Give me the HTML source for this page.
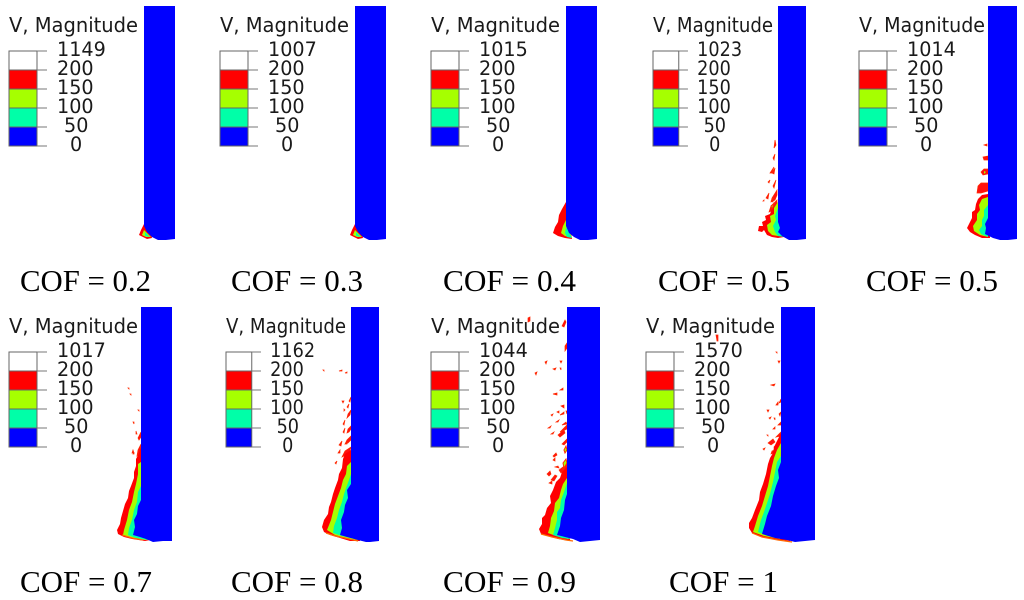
<!DOCTYPE html>
<html lang="en">
<head>
<meta charset="utf-8">
<title>Velocity magnitude contours by COF</title>
<style>
html,body{margin:0;padding:0;background:#fff;width:1024px;height:600px;overflow:hidden}
svg{display:block;filter:blur(0.35px)}
.title{font-family:"DejaVu Sans",sans-serif;font-size:20px;fill:#1a1a1a}
.num{font-family:"DejaVu Sans",sans-serif;font-size:19.5px;fill:#1a1a1a}
.cof{font-family:"Liberation Serif",serif;font-size:31px;fill:#000}
.red{fill:#ff0000}.lime{fill:#a6ff00}.teal{fill:#00ffa8}.blue{fill:#0000ff}
.sp{fill:#ff1010;stroke:#ff2a00;stroke-width:.7}
.spl{fill:#a6ff00;stroke:#ff2a00;stroke-width:1}
</style>
</head>
<body>
<svg id="figure" width="1024" height="600" viewBox="0 0 1024 600" xmlns="http://www.w3.org/2000/svg">
<rect width="1024" height="600" fill="#fff"/>

<g class="panel" data-lx="9" data-ly="51" data-tw="129" data-sx="1">
  <polygon class="red" points="144,224 141,230 139,235 143,237 147,239 152,238 150,230"/>
  <polygon class="lime" points="144,230 142,235 146,237 151,237"/>
  <polygon class="teal" points="145,232 145,236 150,237"/>
  <path class="blue" d="M144,6H175V239L166,240H158L152,237L147,232L144,226Z"/>
  <text class="cof" x="20" y="291" textLength="131" lengthAdjust="spacingAndGlyphs">COF = 0.2</text>
</g>

<g class="panel" data-lx="220" data-ly="51" data-tw="129" data-sx="1">
  <polygon class="red" points="355,224 352,230 350,235 354,237 358,239 363,238 361,230"/>
  <polygon class="lime" points="355,230 353,235 357,237 362,237"/>
  <polygon class="teal" points="356,232 356,236 361,237"/>
  <path class="blue" d="M355,6H386V239L377,240H369L363,237L358,232L355,226Z"/>
  <text class="cof" x="231" y="291" textLength="132" lengthAdjust="spacingAndGlyphs">COF = 0.3</text>
</g>

<g class="panel" data-lx="431" data-ly="51" data-tw="129" data-sx="1">
  <polygon class="red" points="566,202 562,209 559,215 558,222 555,227 553,233 558,236 565,238 572,239 570,225"/>
  <polygon class="lime" points="566,220 563,226 561,233 565,236 572,238"/>
  <polygon class="teal" points="566,227 565,233 567,237 572,238"/>
  <path class="blue" d="M566,6H597V239L588,240H580L574,237L569,233L566,226Z"/>
  <text class="cof" x="443" y="291" textLength="133" lengthAdjust="spacingAndGlyphs">COF = 0.4</text>
</g>

<g class="panel" data-lx="653" data-ly="51" data-tw="120" data-sx="0.92">
  <path class="sp" d="M775,140l1,5-2,3zM775,154l-2,4 1,2zM774,167l-4,6 2,0zM775,168l-3,5 2,1zM770,180l-2,2 1,1zM776,180l-3,6 1,2zM777,190l-5,8-1,4 4,-2 2,-5zM769,193l-3,5 2,1zM773,198l-2,3 2,1zM764,200l-1,1 1,0zM777,200l-6,6-2,6 5,-2 3,-2z"/>
  <polygon class="red" points="778,205 772,208 770,214 765,216 766,220 762,222 763,226 759,226 758,231 762,232 764,230 767,235 772,237 778,238 784,237 782,220"/>
  <polygon class="spl" points="771,206 774,204 772,209"/>
  <polygon class="lime" points="778,202 774,208 774,214 770,216 771,222 767,225 768,231 772,235 778,236 782,236 781,220"/>
  <polygon class="teal" points="778,208 775,216 776,220 773,226 775,232 778,236 784,237 782,220"/>
  <path class="blue" d="M778,6H806V239L797,240H789L782,236L778,232L780,228L778,222Z"/>
  <text class="cof" x="658" y="291" textLength="132" lengthAdjust="spacingAndGlyphs">COF = 0.5</text>
</g>

<g class="panel" data-lx="859" data-ly="51" data-tw="126" data-sx="1">
  <path class="sp" d="M984,145l3,-1 0,2zM983,157l5,-1 0,4-4,0zM981,172l3,-3 4,0 0,5-5,1zM978,186l3,-3 7,0 0,8-7,2-4,0z"/>
  <polygon class="lime" points="984,171 986,172 984,174"/>
  <polygon class="red" points="988,194 982,195 978,199 976,204 975,210 972,212 972,218 970,222 967,228 970,232 975,235 982,238 990,238"/>
  <polygon class="lime" points="988,197 982,199 979,205 980,210 977,214 977,220 973,226 974,231 980,235 988,237"/>
  <polygon class="teal" points="988,205 984,210 984,216 982,220 982,226 979,230 981,234 988,237"/>
  <path class="blue" d="M988,6H1017V239L1008,240H1000L993,238L985,234L986,228L985,224L988,218Z"/>
  <text class="cof" x="866" y="291" textLength="132" lengthAdjust="spacingAndGlyphs">COF = 0.5</text>
</g>

<g class="panel" data-lx="9" data-ly="352" data-tw="129" data-sx="1">
  <path class="sp" d="M128,388l1,0 0,1zM130,394l1,0 0,1zM138,410l1,0 0,1zM133,422l1,0 0,2zM136,431l1,3-1,0zM141,432l-3,6 1,2 2,-3zM141,444l-3,6-1,6 3,-3zM133,450l-1,3 2,0zM134,452l-1,2 1,0z"/>
  <polygon class="red" points="141,447 139,453 136,459 136,466 134,472 134,478 131,486 129,491 128,498 125,504 123,511 121,518 120,524 117,530 118,534 124,537 132,539 145,541 150,540 145,500"/>
  <polygon class="lime" points="141,462 138,464 138,474 136,484 134,492 132,502 129,510 127,520 124,530 123,535 132,538 145,540 150,539"/>
  <polygon class="teal" points="141,486 138,492 137,502 134,510 132,520 129,528 128,535 136,538 148,540"/>
  <path class="blue" d="M141,307H172V541L163,541L153,542L146,539L140,537L133,535L135,527L134,520L137,514L138,506L141,500Z"/>
  <path d="M122,535L132,538L143,540" fill="none" stroke="#ff6a00" stroke-width="1.2"/>
  <text class="cof" x="20" y="592" textLength="132" lengthAdjust="spacingAndGlyphs">COF = 0.7</text>
</g>

<g class="panel" data-lx="226" data-ly="352" data-tw="120" data-sx="0.92">
  <path class="sp" d="M339,371l3,-1 0,1zM345,373l2,-1 0,1zM323,370l1,0 0,1zM351,397l-2,4 1,1zM342,401l2,0-1,2zM349,404l-2,3 1,1zM344,409l1,1-1,1zM351,410l-3,4-1,4 3,-3zM345,420l-2,4 1,1zM351,426l-3,3-1,4 2,-1 2,-3zM345,428l-2,4 1,1zM351,436l-4,4-2,4 3,-1 3,-3zM342,441l-3,4 2,1zM347,440l-2,4 2,0zM351,447l-6,4-3,6 4,-2 3,0zM340,450l-2,3 2,0zM337,461l-2,2 1,1z"/>
  <polygon class="red" points="351,450 345,454 343,459 342,468 339,474 338,480 335,488 333,494 331,502 329,507 328,514 324,520 322,527 324,532 330,535 340,538 350,541 360,541 355,490"/>
  <polygon class="lime" points="351,462 347,466 346,474 343,480 341,488 338,496 335,504 333,512 331,520 327,530 335,535 350,539 358,540"/>
  <polygon class="teal" points="351,474 349,480 346,488 344,494 342,502 339,510 337,518 334,526 333,533 342,536 355,539"/>
  <path class="blue" d="M351,307H379V541L370,542H366L358,540L347,537L340,535L342,528L341,520L344,512L345,505L348,498L347,490L351,484Z"/>
  <path d="M326,533L335,536L345,538L358,541" fill="none" stroke="#ff6a00" stroke-width="1.2"/>
  <text class="cof" x="231" y="592" textLength="132" lengthAdjust="spacingAndGlyphs">COF = 0.8</text>
</g>

<g class="panel" data-lx="431" data-ly="352" data-tw="129" data-sx="1">
  <path class="sp" d="M528,318l2,-1 0,4-2,1zM562,326l3,-6 1,2-2,5zM565,346l2,-3 0,5-2,3zM545,362l2,-1-1,3zM560,361l2,0-1,2zM553,369l3,-1-1,2zM560,368l1,0 0,2zM535,373l2,-1-1,3zM560,390l3,-2 0,2zM553,394l4,-1 0,2zM561,406l3,-1 0,3zM557,412l2,-1 0,2zM551,415l2,-1-1,2zM560,415l4,-3 0,2zM566,411l1,0 0,3zM548,428l3,-2-1,2zM556,422l3,-2-1,2zM562,425l4,-3 1,2zM551,434l3,-2-1,2zM560,432l4,-4 3,-3 0,4zM562,444l5,-5 0,3-3,3zM553,460l2,-2 0,3zM555,467l3,-1 1,2zM559,470l8,-6 0,4-6,5zM547,474l3,-3 1,3-2,2zM551,480l4,-5 2,1-3,5zM562,468l2,0-1,2zM558,435l6,-5 1,3-5,4zM553,456l3,-3 1,2-3,2zM549,483l3,-2 0,3z"/>
  <polygon class="spl" points="563,463 566,459 567,463 564,468"/>
  <polygon class="spl" points="564,450 566,446 567,450 565,453"/>
  <polygon class="red" points="567,467 562,472 560,478 556,482 553,490 550,496 551,503 547,508 545,515 542,518 542,524 539,529 541,534 548,536 558,539 570,541 572,500"/>
  <polygon class="lime" points="567,478 563,484 561,490 559,498 555,503 554,511 551,518 550,526 548,533 556,536 568,539"/>
  <polygon class="teal" points="567,483 564,492 561,500 560,508 557,512 557,520 555,528 553,535 562,538 570,539"/>
  <path class="blue" d="M567,307H600V540L590,541L580,542L573,539L565,537L557,535L560,526L561,518L564,510L565,500L567,494Z"/>
  <path d="M541,534L552,537L566,540L573,541" fill="none" stroke="#ff6a00" stroke-width="1.2"/>
  <text class="cof" x="443" y="592" textLength="133" lengthAdjust="spacingAndGlyphs">COF = 0.9</text>
</g>

<g class="panel" data-lx="646" data-ly="352" data-tw="129" data-sx="1">
  <path class="sp" d="M716,335l2,0 0,6-1,0zM776,352l1,0 0,1zM778,361l2,0-1,2zM771,385l4,-1-1,2zM779,403l2,-4 0,3zM767,410l2,0-1,2zM776,405l2,-3 0,3zM769,418l2,-1-1,2zM774,418l1,0 0,2zM781,412l-2,2 1,2zM773,429l2,-2 0,2zM778,425l3,-3 0,3zM767,435l1,0 0,1zM776,437l5,-5 0,4zM768,443l5,-4 2,3-4,3zM774,447l7,-7 0,5-3,3zM763,449l2,-1-1,2zM772,451l3,-1-1,3-3,1z"/>
  <polygon class="red" points="781,433 777,441 774,447 773,453 770,458 768,464 766,474 763,484 760,492 759,500 755,510 752,518 749,523 749,528 752,533 760,536 772,539 790,541 786,470"/>
  <polygon class="lime" points="781,443 777,450 774,458 772,466 770,476 768,486 765,496 762,506 758,516 755,526 753,532 764,536 780,539"/>
  <polygon class="teal" points="781,456 777,462 775,472 773,482 770,494 768,500 764,512 761,520 758,532 768,536 780,538"/>
  <path class="blue" d="M781,307H815V540L805,541L795,542L787,540L775,538L762,534L765,524L767,516L771,506L773,496L776,486L779,478L778,470L781,462Z"/>
  <path d="M752,533L762,537L778,540L792,542" fill="none" stroke="#ff6a00" stroke-width="1.2"/>
  <text class="cof" x="669" y="592" textLength="109" lengthAdjust="spacingAndGlyphs">COF = 1</text>
</g>

<script>
const maxValues = [1149, 1007, 1015, 1023, 1014, 1017, 1162, 1044, 1570];
const legendLevels = [200, 150, 100, 50, 0];
const legendBandColors = ['#ffffff', '#ff0000', '#a6ff00', '#00ffa8', '#0000ff'];

const NS = 'http://www.w3.org/2000/svg';
const ROW = 19, SWATCH = 28, TICK = 10, DIGIT = 12.2;

function levelX(left, text, sx) {
  // labels: 3+ digit values share a left edge, shorter ones step in
  return left + sx * (48 + (text.length >= 3 ? 0 : text.length === 2 ? 7 : 13));
}

function addLegend(panel, maxValue) {
  const lx = +panel.getAttribute('data-lx');
  const ly = +panel.getAttribute('data-ly');
  const tw = +panel.getAttribute('data-tw');
  const sx = +panel.getAttribute('data-sx');
  const legend = document.createElementNS(NS, 'g');
  
  

  const title = document.createElementNS(NS, 'text');
  
  
  title.setAttribute('class', 'title');
  title.setAttribute('x', lx);
  title.setAttribute('y', ly - 19);
  title.setAttribute('textLength', tw);
  title.setAttribute('lengthAdjust', 'spacingAndGlyphs');
  title.textContent = 'V, Magnitude';
  legend.appendChild(title);

  const labels = [maxValue].concat(legendLevels);
  legendBandColors.forEach(function (color, i) {
    const band = document.createElementNS(NS, 'rect');
    
    
    band.setAttribute('x', lx);
    band.setAttribute('y', ly + i * ROW);
    band.setAttribute('width', SWATCH * sx);
    band.setAttribute('height', ROW);
    band.setAttribute('fill', color);
    band.setAttribute('stroke', '#666');
    band.setAttribute('stroke-width', '1');
    legend.appendChild(band);
  });
  labels.forEach(function (value, i) {
    const tick = document.createElementNS(NS, 'line');
    
    
    tick.setAttribute('x1', lx + SWATCH * sx);
    tick.setAttribute('x2', lx + (SWATCH + TICK) * sx);
    tick.setAttribute('y1', ly + i * ROW);
    tick.setAttribute('y2', ly + i * ROW);
    tick.setAttribute('stroke', '#777');
    legend.appendChild(tick);

    const text = String(value);
    const label = document.createElementNS(NS, 'text');
    
    
    label.setAttribute('class', 'num');
    label.setAttribute('x', levelX(lx, text, sx));
    label.setAttribute('y', ly + 5 + i * ROW);
    label.setAttribute('textLength', text.length * DIGIT * sx);
    label.setAttribute('lengthAdjust', 'spacingAndGlyphs');
    label.textContent = text;
    legend.appendChild(label);
  });
  panel.appendChild(legend);
}

Array.from(document.querySelectorAll('.panel')).forEach(function (panel, i) {
  addLegend(panel, maxValues[i]);
});
</script>
</svg>
</body>
</html>
